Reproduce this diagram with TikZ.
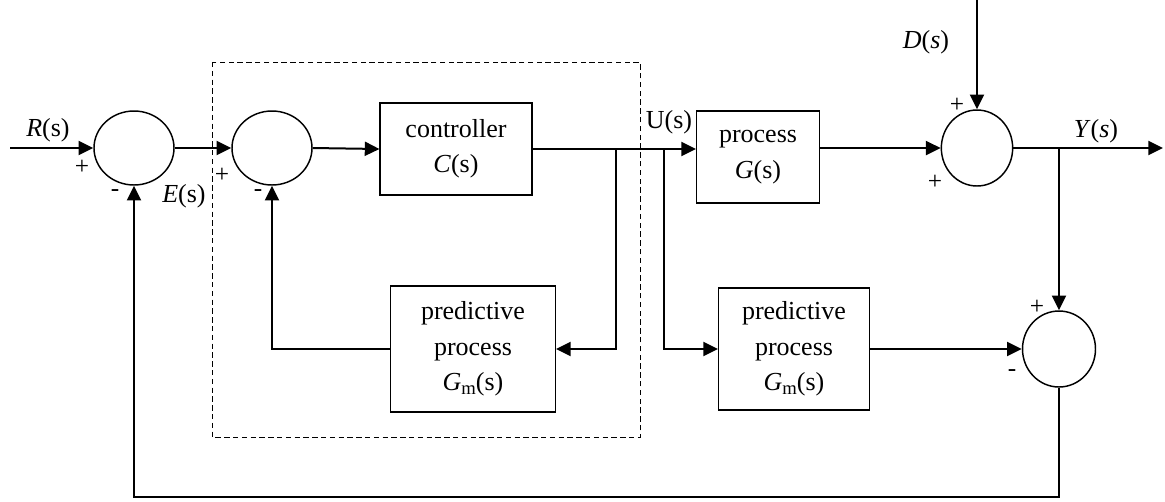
\documentclass[tikz,border=0pt]{standalone}
\usepackage{fontspec}
\setmainfont{Liberation Serif}
\usetikzlibrary{arrows.meta,shapes.geometric}
\tikzset{
  sig/.style={line width=1.5pt,-{Triangle[length=11pt,width=10.5pt]}},
  wire/.style={line width=1.5pt},
  sumnode/.style={ellipse,draw,line width=1.1pt,inner sep=0pt},
  blk/.style={draw,line width=0.8pt,align=center,inner sep=0pt,font=\fontsize{19.5}{26.5}\selectfont},
  lbl/.style={inner sep=0pt,font=\fontsize{19.5}{24}\selectfont},
  sgn/.style={inner sep=0pt,font=\fontsize{19}{19}\selectfont},
}
\newcommand{\gmsub}{\textit{G}\raisebox{-0.3ex}{\fontsize{14}{14}\selectfont m}(s)}
\begin{document}
\begin{tikzpicture}[x=0.75pt,y=-0.75pt]
\useasboundingbox (0,0) rectangle (1165,501);
% dashed frame
\draw[line width=0.75pt,dash pattern=on 4pt off 2.6pt] (212,62) rectangle (640,437);
% summing junctions
\node[sumnode,minimum width=60pt,minimum height=55.5pt] (s1) at (134,148) {};
\node[sumnode,minimum width=60pt,minimum height=55.5pt] (s2) at (272,148) {};
\node[sumnode,minimum width=53.5pt,minimum height=57pt] (s3) at (977,148) {};
\node[sumnode,minimum width=54.75pt,minimum height=57pt] (s4) at (1059,349) {};
% blocks
\node[blk,minimum width=114pt,minimum height=69pt] (ctrl) at (456,149) {controller\\\textit{C}(s)};
\node[blk,minimum width=92.25pt,minimum height=69pt] (proc) at (758,157) {process\\\textit{G}(s)};
\node[blk,minimum width=123.75pt,minimum height=94.5pt] (pm1) at (473,349) {predictive\\process\\\gmsub};
\node[blk,minimum width=113.25pt,minimum height=91.5pt] (pm2) at (794,349) {predictive\\process\\\gmsub};
% coordinates
\coordinate (Rin) at (10,148);
\coordinate (b1) at (616,148);
\coordinate (b2) at (664,148);
\coordinate (Dtop) at (977,0);
\coordinate (Yout) at (1163,148);
\coordinate (b3) at (1059,148);
\coordinate (botL) at (134,497);
% connectors
\draw[sig] (Rin) -- (s1.west);
\draw[sig] (s1.east) -- (s2.west);
\draw[sig] (s2.east) -- (ctrl.west);
\draw[sig] (ctrl.east) -- (ctrl.east -| proc.west);
\draw[sig] (b1) |- (pm1.east);
\draw[sig] (pm1.west) -| (s2.south);
\draw[sig] (b2) |- (pm2.west);
\draw[sig] (pm2.east) -- (s4.west);
\draw[sig] (proc.east |- s3.west) -- (s3.west);
\draw[sig] (Dtop) -- (s3.north);
\draw[sig] (s3.east) -- (Yout);
\draw[sig] (b3) -- (s4.north);
\draw[sig] (s4.south) |- (botL) -- (s1.south);
% labels
\node[lbl] (lR) at (48,130) {\textit{R}(s)};
\node[lbl] (lE) at (184,196) {\textit{E}(s)};
\node[lbl] (lU) at (669,122) {U(s)};
\node[lbl] (lD) at (926,42) {\textit{D}(\textit{s})};
\node[lbl] (lY) at (1096,131) {\textit{Y}(\textit{s})};
\node[sgn] (p1) at (82,167) {+};
\node[sgn] (m1) at (115,193) {-};
\node[sgn] (p2) at (222,175) {+};
\node[sgn] (m2) at (258,193) {-};
\node[sgn] (p3) at (957,105) {+};
\node[sgn] (p4) at (935,182) {+};
\node[sgn] (p5) at (1037,307) {+};
\node[sgn] (m5) at (1012,373) {-};
\end{tikzpicture}
\end{document}
